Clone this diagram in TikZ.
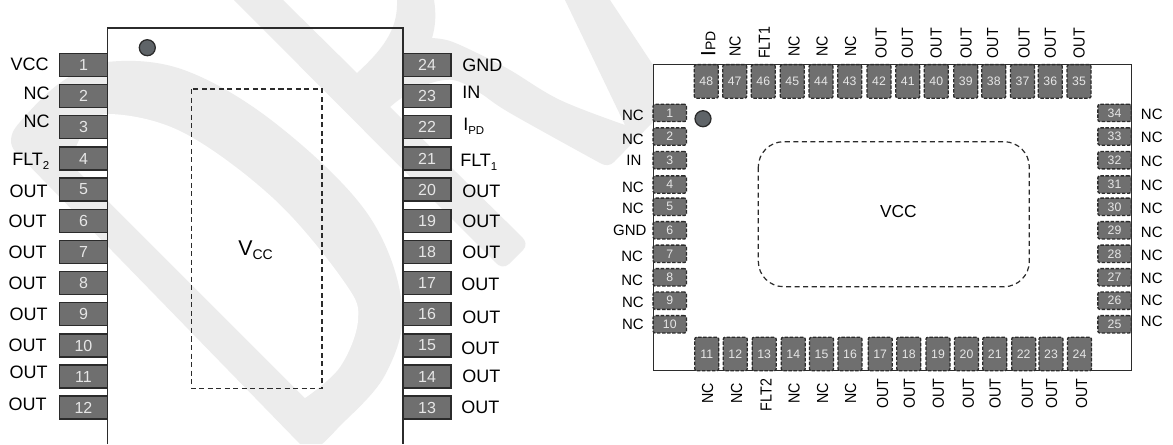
\documentclass[tikz,border=0pt]{standalone}
\usepackage{fontspec}
\setmainfont{Liberation Sans}
\definecolor{wm}{HTML}{ECECEC}
\definecolor{pinfill}{HTML}{6F6F6F}
\definecolor{ink}{HTML}{2B2B2B}
\definecolor{dotfill}{HTML}{5F6468}
\definecolor{numc}{HTML}{E6E6E6}
\newcommand{\szL}{\fontsize{13.5}{15}\selectfont}
\newcommand{\szM}{\fontsize{11.25}{13}\selectfont}
\newcommand{\szR}{\fontsize{12}{14}\selectfont}
\newcommand{\szN}{\fontsize{12}{14}\selectfont}
\newcommand{\szS}{\fontsize{8.6}{10}\selectfont}
\newcommand{\szT}{\fontsize{9.2}{11}\selectfont}
\newcommand{\subtxt}[1]{\lower3pt\hbox{\szS #1}}
\newcommand{\narrowed}[1]{\scalebox{0.89}[1]{#1}}
\tikzset{
  lblL/.style={anchor=east,inner sep=0pt,font=\szL,text=black},
  lblR/.style={anchor=west,inner sep=0pt,font=\szL,text=black},
  lblBase/.style={anchor=base west,inner sep=0pt,font=\szL,text=black},
  smallL/.style={anchor=east,inner sep=0pt,font=\szM,text=black},
  smallR/.style={anchor=west,inner sep=0pt,font=\szM,text=black},
  vert/.style={rotate=90,inner sep=0pt,font=\szR,text=black},
  bigpin/.style={draw=ink,line width=1.1pt,fill=pinfill,text=numc,font=\szN,inner sep=0pt,
    minimum width=36pt,minimum height=17.5pt},
  qfnbase/.style={draw=ink,line width=1pt,dash pattern=on 2.6pt off 1.2pt,fill=pinfill,text=numc,
    font=\szT,inner sep=0pt,rounded corners=1.5pt},
  hpin/.style={qfnbase,minimum width=18pt,minimum height=25.2pt},
  spin/.style={qfnbase,minimum width=25pt,minimum height=13pt},
  dot/.style={circle,draw=ink,line width=0.95pt,fill=dotfill,inner sep=0pt,minimum size=12pt},
  padline/.style={draw=ink,line width=0.9pt,dash pattern=on 3.8pt off 2.6pt},
  body/.style={draw=ink,line width=1.1pt}
}
\begin{document}
\begin{tikzpicture}[x=0.75pt,y=-0.75pt]
\useasboundingbox (0,0) rectangle (1173,444);
\fill[white] (0,0) rectangle (1173,444);
% watermark
\fill[wm] (14,150) -- plot[smooth,tension=0.6] coordinates {(14,150) (11,139) (20,122) (60,83) (107,62) (184,70) (275,123) (367,213) (402,305) (385,375) (337,429) (322,444)} -- (300,444) -- cycle;
\fill[white] (305,398) -- (70,163) -- plot[smooth,tension=0.6] coordinates {(70,163) (85,130) (110,114) (184,133) (275,200) (345,283) (358,320) (340,367) (305,398)} -- cycle;
\fill[wm] (234,0) -- (495,262) .. controls (499,267) and (505,268) .. (509,264) -- (523,250) .. controls (527,246) and (526,241) .. (522,237) -- (390,107)
  -- plot[smooth,tension=0.6] coordinates {(390,107) (403,97) (425,85) (453,80) (480,93) (510,113) (600,163)}
  .. controls (605,166) and (610,166) .. (614,162) -- (653,122) -- (653,65) -- (610,0) -- (565,0) -- (625,125)
  -- plot[smooth,tension=0.6] coordinates {(625,125) (560,100) (510,70) (477,53) (450,41) (432,38)}
  .. controls (436,25) and (436,12) .. (434,0) -- (397,0)
  .. controls (398,25) and (388,45) .. (357,73) -- (283,0) -- cycle;
% left package
\draw[body] (107.5,444) -- (107.5,28) -- (403,28) -- (403,444);
\node[dot] (dotA) at (147.3,47.7) {};
\draw[padline] (191.5,89) rectangle (322,388.5);
\node[font=\fontsize{16}{18}\selectfont,inner sep=0pt,anchor=base] (vccA) at (255.5,255) {V\subtxt{\fontsize{10.5}{12}\selectfont CC}};
\foreach \n/\y in {1/65,2/96,3/127,4/158.5,5/189.5,6/221,7/252,8/283,9/314,10/345.5,11/376.5,12/407.5}
  \node[bigpin] (a\n) at (83.5,\y) {\n};
\foreach \n/\y in {24/65,23/96,22/127,21/158.5,20/189.5,19/221,18/252,17/283,16/314,15/345.5,14/376.5,13/407.5}
  \node[bigpin] (a\n) at (427,\y) {\n};
\foreach \i/\t/\x/\y in {1/VCC/49/64.5,2/NC/50/93,3/NC/50/121.5,5/OUT/48/191,6/OUT/47/221.7,7/OUT/47/252.7,8/OUT/47/283.3,9/OUT/48/314,10/OUT/47/345.7,11/OUT/48/372.7,12/OUT/47/404.3}
  \node[lblL] (la\i) at (\x,\y) {\t};
\node[lblBase] (la4) at (12,165) {FLT\subtxt{2}};
\foreach \i/\t/\x/\y in {24/GND/462/65,23/IN/462/92.7,20/OUT/462/191.7,19/OUT/462/221.7,18/OUT/462/252,17/OUT/461/284.3,16/OUT/462/317,15/OUT/461/348,14/OUT/462/376,13/OUT/461/407}
  \node[lblR] (la\i) at (\x,\y) {\t};
\node[lblBase] (la22) at (463,130) {I\subtxt{PD}};
\node[lblBase] (la21) at (460,166.5) {FLT\subtxt{1}};
% right package
\draw[body,fill=white] (653.3,64.5) rectangle (1131.7,370.7);
\node[dot] (dotB) at (703,118.7) {};
\draw[padline,rounded corners=19pt] (758.3,141.7) rectangle (1029.3,286.7);
\node[font=\fontsize{13}{15}\selectfont,inner sep=0pt] (vccB) at (898.3,211.5) {VCC};
\foreach \n/\x in {48/706.3,47/734.7,46/763.3,45/792.3,44/821,43/849.7,42/879,41/907.8,40/936.3,39/965.8,38/993.8,37/1022.5,36/1050.3,35/1079}
  \node[hpin] (b\n) at (\x,81.4) {\n};
\foreach \n/\x in {11/706.8,12/735.3,13/764.2,14/793.3,15/821.5,16/850,17/880.2,18/908.8,19/938,20/966.5,21/994.8,22/1023.7,23/1051,24/1079.5}
  \node[hpin] (b\n) at (\x,354) {\n};
\foreach \n/\y in {1/112.9,2/136.5,3/160.2,4/184.5,5/206.8,6/230.3,7/253.8,8/277.3,9/300.7,10/324.3}
  \node[spin] (b\n) at (669.8,\y) {\n};
\foreach \n/\y in {34/112.9,33/136.5,32/160.2,31/184.5,30/206.8,29/230.3,28/253.8,27/277.3,26/300.7,25/324.3}
  \node[spin] (b\n) at (1114.5,\y) {\n};
\foreach \i/\t/\x/\y in {1/NC/644/115.7,2/NC/644/139,3/IN/641.7/160,4/NC/644/187.7,5/NC/644/208.3,6/GND/646.7/230.7,7/NC/643.3/256.7,8/NC/643.3/280,9/NC/644/302.7,10/NC/644/324.3}
  \node[smallL] (lb\i) at (\x,\y) {\t};
\foreach \i/\y in {34/114,33/137.3,32/161,31/185,30/208.7,29/232.7,28/255,27/278.3,26/300.7,25/321.7}
  \node[smallR] (lb\i) at (1140.7,\y) {NC};
\node[vert] (lb48) at (708.3,43.7) {\fontsize{15.5}{17}\selectfont I\fontsize{10.5}{12}\selectfont PD};
\foreach \i/\t/\x/\y in {47/NC/735/46,46/FLT1/764.3/42.8,45/NC/794/46,44/NC/822/46,43/NC/850.7/46,42/OUT/881/43.3,41/OUT/907.3/43.3,40/OUT/936/43.3,39/OUT/966/43.3,38/OUT/992.7/43.3,37/OUT/1024/43.3,36/OUT/1050.3/43.3,35/OUT/1079/43.3}
  \node[vert] (lb\i) at (\x,\y) {\narrowed{\t}};
\foreach \i/\t/\x/\y in {11/NC/707.7/393.5,12/NC/736.7/393.5,13/FLT2/766/395,14/NC/794/393.5,15/NC/822.7/393.5,16/NC/850.7/393.5,17/OUT/882.7/393.5,18/OUT/909.3/393.5,19/OUT/938.3/393.5,20/OUT/968.3/393.5,21/OUT/995/393.5,22/OUT/1027.3/393.5,23/OUT/1051.7/393.5,24/OUT/1081.7/393.5}
  \node[vert] (lb\i) at (\x,\y) {\narrowed{\t}};
\end{tikzpicture}
\end{document}
